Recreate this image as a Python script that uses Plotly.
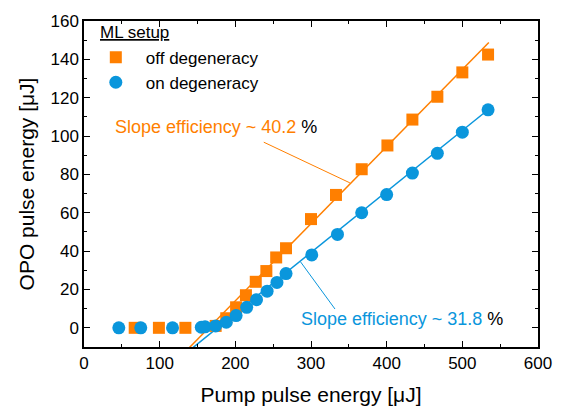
import plotly.graph_objects as go
import numpy as np

# ---- data ----
off_x = [67, 99, 134, 174, 188, 201, 214, 227, 241, 254, 267, 300, 333, 367, 401, 434, 467, 500, 534]
off_y = [0, 0, 0, 1, 5, 10.7, 17, 24, 29.6, 36.7, 41.5, 56.7, 69.3, 82.7, 95.1, 108.6, 120.5, 133.2, 142.5]

on_x = [46, 75, 117, 155, 160, 174, 188, 201, 215, 228, 242, 255, 267, 301, 335, 367, 400, 434, 467, 500, 534]
on_y = [0, 0, 0, 0.3, 0.5, 1.0, 2.9, 6.4, 10.7, 14.7, 19.1, 23.7, 28.3, 38, 48.7, 60, 69.5, 80.7, 91, 102, 113.7]

# linear fits: slope, intercept, x-range
off_fit = dict(slope=0.402, intercept=-66.3, x0=130, x1=535)
on_fit = dict(slope=0.318, intercept=-56.1, x0=130, x1=534)

ORANGE = "#ff7f00"
BLUE = "#0a96dc"
FONT = "Liberation Sans, Arial, sans-serif"

fig = go.Figure()

for fit, col in [(off_fit, ORANGE), (on_fit, BLUE)]:
    xs = np.array([fit["x0"], fit["x1"]], dtype=float)
    fig.add_trace(go.Scatter(x=xs, y=fit["slope"] * xs + fit["intercept"], mode="lines",
                             line=dict(color=col, width=1.5), showlegend=False, hoverinfo="skip"))

fig.add_trace(go.Scatter(x=off_x, y=off_y, mode="markers", name="off degeneracy",
                         marker=dict(symbol="square", size=12, color=ORANGE, line=dict(width=0))))
fig.add_trace(go.Scatter(x=on_x, y=on_y, mode="markers", name="on degeneracy",
                         marker=dict(symbol="circle", size=13, color=BLUE, line=dict(width=0))))

# leader lines
fig.add_shape(type="line", x0=237.6, y0=96.8, x1=351.4, y1=75.6, xref="x", yref="y",
              line=dict(color=ORANGE, width=1))
fig.add_shape(type="line", x0=331.7, y0=9.8, x1=286, y1=34.5, xref="x", yref="y",
              line=dict(color=BLUE, width=1))

fig.add_annotation(x=38, y=104.5, xref="x", yref="y", xanchor="left", yanchor="middle",
                   text=f'<span style="color:{ORANGE}">Slope efficiency ~ 40.2 </span>%',
                   showarrow=False, font=dict(size=18, color="black", family=FONT))
fig.add_annotation(x=284, y=4.8, xref="x", yref="y", xanchor="left", yanchor="middle",
                   text=f'<span style="color:{BLUE}">Slope efficiency ~ 31.8 </span>%',
                   showarrow=False, font=dict(size=18, color="black", family=FONT))

# legend title
fig.add_annotation(x=0.0306, y=0.964, xref="paper", yref="paper", xanchor="left", yanchor="middle",
                   text="<u>ML setup</u>", showarrow=False,
                   font=dict(size=17, color="black", family=FONT))

axis_common = dict(showline=True, linecolor="black", linewidth=1.5, mirror="allticks",
                   ticks="inside", ticklen=6, tickwidth=1.2, tickcolor="black",
                   showgrid=False, zeroline=False,
                   tickfont=dict(size=17, family=FONT, color="black"),
                   minor=dict(ticks="inside", ticklen=3, tickwidth=1.1, tickcolor="black", showgrid=False))

fig.update_xaxes(range=[0, 600], tick0=0, dtick=100, minor_dtick=50,
                 title=dict(text="Pump pulse energy [μJ]", font=dict(size=21, family=FONT, color="black"),
                            standoff=15),
                 **axis_common)
fig.update_yaxes(range=[-10, 160], tick0=0, dtick=20, minor_dtick=10,
                 title=dict(text="OPO pulse energy [μJ]", font=dict(size=21, family=FONT, color="black"),
                            standoff=10),
                 **axis_common)

fig.update_layout(
    width=564, height=415,
    margin=dict(l=84, r=23, t=15, b=65),
    plot_bgcolor="white", paper_bgcolor="white",
    font=dict(family=FONT, color="black"),
    legend=dict(x=0.004, y=0.943, xanchor="left", yanchor="top",
                bgcolor="rgba(0,0,0,0)", borderwidth=0,
                font=dict(size=17, family=FONT, color="black"),
                tracegroupgap=0, itemsizing="trace", itemwidth=50),
)

fig.write_html("out.html")
